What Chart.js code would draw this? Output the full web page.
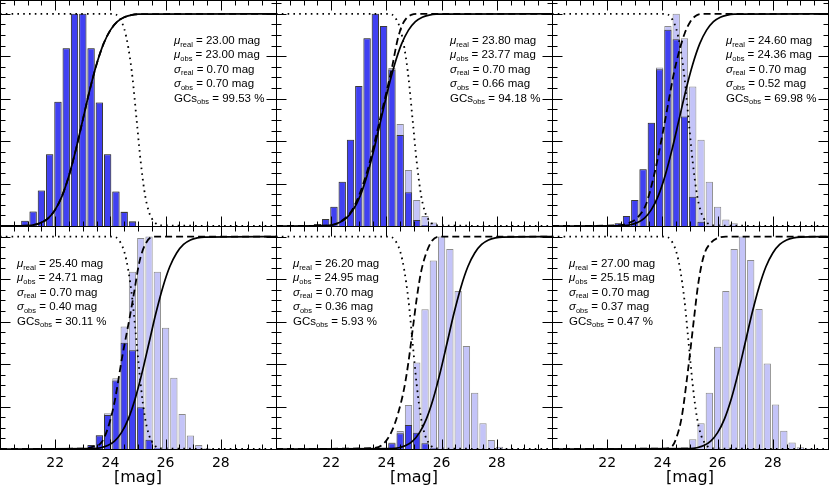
<!DOCTYPE html>
<html><head><meta charset="utf-8">
<script src="https://cdn.jsdelivr.net/npm/chart.js@4.4.1/dist/chart.umd.min.js"></script>
<style>
html,body{margin:0;padding:0;background:#fff;width:830px;height:500px;overflow:hidden;position:relative;}
canvas{position:absolute;}
</style></head><body>
<script>
// ---------- tick labels / axis ----------
const xTickLabels = ['22', '24', '26', '28'];
const xTitle = '[mag]';

// ---------- annotation values ----------
const muReal  = ['23.00', '23.80', '24.60', '25.40', '26.20', '27.00'];
const muObs   = ['23.00', '23.77', '24.36', '24.71', '24.95', '25.15'];
const sigReal = ['0.70', '0.70', '0.70', '0.70', '0.70', '0.70'];
const sigObs  = ['0.70', '0.66', '0.52', '0.40', '0.36', '0.37'];
const gcsObs  = ['99.53', '94.18', '69.98', '30.11', '5.93', '0.47'];

// ---------- histograms (bin centres, real = light, observed = dark) ----------
const bins1 = [20.6, 20.9, 21.2, 21.5, 21.8, 22.1, 22.4, 22.7, 23.0, 23.3, 23.6, 23.9, 24.2, 24.5, 24.8];
const real1 = [0.005, 0.025, 0.068, 0.167, 0.338, 0.585, 0.838, 1.0, 1.0, 0.838, 0.582, 0.338, 0.162, 0.068, 0.024];
const obs1  = [0.005, 0.025, 0.068, 0.167, 0.338, 0.585, 0.838, 1.0, 1.0, 0.838, 0.582, 0.338, 0.162, 0.066, 0.02];

const bins2 = [21.5, 21.8, 22.1, 22.4, 22.7, 23.0, 23.3, 23.6, 23.9, 24.2, 24.5, 24.8, 25.1, 25.4, 25.7];
const real2 = [0.01, 0.033, 0.091, 0.209, 0.406, 0.66, 0.885, 1.0, 0.943, 0.745, 0.481, 0.264, 0.123, 0.047, 0.017];
const obs2  = [0.01, 0.033, 0.091, 0.209, 0.406, 0.66, 0.885, 1.0, 0.943, 0.737, 0.429, 0.159, 0.028, 0.005, 0];

const bins3 = [22.4, 22.7, 23.0, 23.3, 23.6, 23.9, 24.2, 24.5, 24.8, 25.1, 25.4, 25.7, 26.0, 26.3, 26.6];
const real3 = [0.013, 0.047, 0.123, 0.267, 0.487, 0.747, 0.943, 1.0, 0.885, 0.657, 0.406, 0.209, 0.091, 0.031, 0.013];
const obs3  = [0.013, 0.047, 0.123, 0.267, 0.487, 0.739, 0.925, 0.88, 0.516, 0.138, 0.02, 0, 0, 0, 0];

const bins4 = [23.0, 23.3, 23.6, 23.9, 24.2, 24.5, 24.8, 25.1, 25.4, 25.7, 26.0, 26.3, 26.6, 26.9, 27.2, 27.5];
const real4 = [0.003, 0.019, 0.066, 0.168, 0.333, 0.577, 0.835, 0.993, 1.0, 0.835, 0.571, 0.336, 0.165, 0.063, 0.019, 0.003];
const obs4  = [0.003, 0.019, 0.064, 0.16, 0.322, 0.5, 0.465, 0.197, 0.043, 0.004, 0, 0, 0, 0, 0, 0];

const bins5 = [23.9, 24.2, 24.5, 24.8, 25.1, 25.4, 25.7, 26.0, 26.3, 26.6, 26.9, 27.2, 27.5, 27.8, 28.1, 28.4];
const real5 = [0.003, 0.031, 0.085, 0.207, 0.407, 0.658, 0.887, 1.0, 0.942, 0.744, 0.485, 0.265, 0.121, 0.042, 0.011, 0.002];
const obs5  = [0.003, 0.027, 0.074, 0.113, 0.077, 0.027, 0.003, 0, 0, 0, 0, 0, 0, 0, 0, 0];

const bins6 = [24.8, 25.1, 25.4, 25.7, 26.0, 26.3, 26.6, 26.9, 27.2, 27.5, 27.8, 28.1, 28.4, 28.7, 29.0, 29.3];
const real6 = [0.008, 0.046, 0.121, 0.265, 0.482, 0.744, 0.942, 1.0, 0.89, 0.659, 0.403, 0.21, 0.086, 0.031, 0.008, 0.002];
const obs6  = [0.006, 0.004, 0, 0, 0, 0, 0, 0, 0, 0, 0, 0, 0, 0, 0, 0];

// ---------- solid curves (real cumulative) ----------
const solidY  = [0, 0.002, 0.006, 0.016, 0.037, 0.077, 0.142, 0.238, 0.361, 0.5, 0.64, 0.762, 0.858, 0.923, 0.963, 0.984, 0.994, 0.998, 1];
const solidX1 = [20, 21, 21.25, 21.5, 21.75, 22, 22.25, 22.5, 22.75, 23, 23.25, 23.5, 23.75, 24, 24.25, 24.5, 24.75, 25, 30];
const solidX2 = [20, 21.8, 22.05, 22.3, 22.55, 22.8, 23.05, 23.3, 23.55, 23.8, 24.05, 24.3, 24.55, 24.8, 25.05, 25.3, 25.55, 25.8, 30];
const solidX3 = [20, 22.6, 22.85, 23.1, 23.35, 23.6, 23.85, 24.1, 24.35, 24.6, 24.85, 25.1, 25.35, 25.6, 25.85, 26.1, 26.35, 26.6, 30];
const solidX4 = [20, 23.4, 23.65, 23.9, 24.15, 24.4, 24.65, 24.9, 25.15, 25.4, 25.65, 25.9, 26.15, 26.4, 26.65, 26.9, 27.15, 27.4, 30];
const solidX5 = [20, 24.2, 24.45, 24.7, 24.95, 25.2, 25.45, 25.7, 25.95, 26.2, 26.45, 26.7, 26.95, 27.2, 27.45, 27.7, 27.95, 28.2, 30];
const solidX6 = [20, 25.0, 25.25, 25.5, 25.75, 26.0, 26.25, 26.5, 26.75, 27.0, 27.25, 27.5, 27.75, 28.0, 28.25, 28.5, 28.75, 29.0, 30];

// ---------- dashed curves (observed cumulative) ----------
const dashX1 = [20, 21, 21.25, 21.5, 21.75, 22, 22.25, 22.5, 22.75, 23, 23.25, 23.5, 23.75, 24, 24.25, 24.5, 24.75, 25, 30];
const dashY1 = [0, 0.002, 0.006, 0.016, 0.037, 0.077, 0.142, 0.238, 0.361, 0.5, 0.64, 0.762, 0.858, 0.923, 0.963, 0.984, 0.994, 0.998, 1];
const dashX2 = [20, 21.8, 22.3, 22.8, 23.3, 23.6, 23.8, 24.0, 24.2, 24.4, 24.55, 24.7, 24.9, 25.2, 30];
const dashY2 = [0, 0.002, 0.018, 0.085, 0.255, 0.41, 0.52, 0.63, 0.745, 0.875, 0.94, 0.975, 0.995, 1, 1];
const dashX3 = [20, 22.4, 22.8, 23.1, 23.4, 23.7, 24.0, 24.2, 24.4, 24.6, 24.8, 25.0, 25.2, 25.45, 30];
const dashY3 = [0, 0.003, 0.015, 0.04, 0.1, 0.24, 0.43, 0.57, 0.71, 0.82, 0.905, 0.96, 0.99, 1, 1];
const dashX4 = [20, 23.0, 23.35, 23.7, 24.1, 24.45, 24.7, 24.85, 25.05, 25.25, 25.55, 30];
const dashY4 = [0, 0.002, 0.01, 0.035, 0.19, 0.45, 0.62, 0.73, 0.88, 0.96, 1, 1];
const dashX5 = [20, 23.5, 23.9, 24.2, 24.45, 24.65, 24.8, 24.95, 25.1, 25.25, 25.45, 25.65, 25.9, 30];
const dashY5 = [0, 0.004, 0.025, 0.085, 0.18, 0.29, 0.41, 0.56, 0.71, 0.83, 0.925, 0.98, 1, 1];
const dashX6 = [20, 24.1, 24.35, 24.5, 24.7, 24.85, 25.0, 25.15, 25.3, 25.5, 25.75, 26.0, 26.3, 30];
const dashY6 = [0, 0.002, 0.012, 0.05, 0.15, 0.29, 0.45, 0.62, 0.78, 0.91, 0.97, 0.993, 1, 1];

// ---------- dotted curve (completeness) ----------
const compX = [20, 24.1, 24.3, 24.5, 24.65, 24.8, 24.95, 25.1, 25.25, 25.4, 25.6, 25.8, 30];
const compY = [1, 1, 0.985, 0.93, 0.84, 0.7, 0.5, 0.3, 0.15, 0.065, 0.018, 0.003, 0];

// ---------- assembly ----------
const panels = [
  {bins: bins1, real: real1, obs: obs1, sx: solidX1, dx: dashX1, dy: dashY1},
  {bins: bins2, real: real2, obs: obs2, sx: solidX2, dx: dashX2, dy: dashY2},
  {bins: bins3, real: real3, obs: obs3, sx: solidX3, dx: dashX3, dy: dashY3},
  {bins: bins4, real: real4, obs: obs4, sx: solidX4, dx: dashX4, dy: dashY4},
  {bins: bins5, real: real5, obs: obs5, sx: solidX5, dx: dashX5, dy: dashY5},
  {bins: bins6, real: real6, obs: obs6, sx: solidX6, dx: dashX6, dy: dashY6}
];

const COL_W = 276;
const DARK = '#4040f2', DARK_EDGE = '#3a3a3a';
const LIGHT = '#c4c4f8', LIGHT_EDGE = '#8a8a8a';
const TXT_FONT = '"Liberation Sans", Arial, sans-serif';

function pts(xs, ys) { return xs.map((x, i) => ({x: x, y: ys[i]})); }
function barPts(xs, ys) { return xs.map((x, i) => ({x: x, y: ys[i] > 0 ? ys[i] : null})); }
function isMult(v, s) { const r = v / s; return Math.abs(r - Math.round(r)) < 1e-6; }

const decor = {
  id: 'decor',
  afterDatasetsDraw(chart, args, o) {
    const {ctx, chartArea: a, scales} = chart;
    const xs = scales.x, ys = scales.y;
    const L = Math.round(a.left) + 0.5, R = Math.round(a.right) + 0.5;
    const T = Math.round(a.top) + 0.5, B = Math.round(a.bottom) + 0.5;
    ctx.save();
    ctx.strokeStyle = '#000';
    ctx.lineWidth = 1;
    ctx.setLineDash([]);
    ctx.beginPath();
    for (let k = 0; ; k++) {
      const v = 20 + k * 0.5;
      if (v > 30 + 1e-9) break;
      const len = isMult(v, 2) ? 10 : 5;
      const px = Math.round(xs.getPixelForValue(v)) + 0.5;
      ctx.moveTo(px, B); ctx.lineTo(px, B - len);
      ctx.moveTo(px, T); ctx.lineTo(px, T + len);
    }
    for (let k = 0; ; k++) {
      const v = k * 0.05;
      if (v > ys.max + 1e-9) break;
      const len = isMult(v, 0.2) ? 10 : 5;
      const py = Math.round(ys.getPixelForValue(v)) + 0.5;
      ctx.moveTo(L, py); ctx.lineTo(L + len, py);
      ctx.moveTo(R, py); ctx.lineTo(R - len, py);
    }
    ctx.stroke();
    ctx.strokeRect(L, T, R - L, B - T);

    // annotation text
    const i = o.idx;
    const lines = [
      ['\u03bc', true, 'real', ' = ' + muReal[i] + ' mag'],
      ['\u03bc', true, 'obs', ' = ' + muObs[i] + ' mag'],
      ['\u03c3', true, 'real', ' = ' + sigReal[i] + ' mag'],
      ['\u03c3', true, 'obs', ' = ' + sigObs[i] + ' mag'],
      ['GCs', false, 'obs', ' = ' + gcsObs[i] + ' %']
    ];
    const x0 = a.left + (o.row === 0 ? 174 : 17);
    const y0 = a.top + (o.row === 0 ? 44 : 41);
    const lh = 14.45;
    ctx.fillStyle = '#000';
    ctx.textBaseline = 'alphabetic';
    ctx.textAlign = 'left';
    lines.forEach((ln, j) => {
      let x = x0;
      const y = y0 + j * lh;
      ctx.font = (ln[1] ? 'italic ' : '') + '11.5px ' + TXT_FONT;
      ctx.fillText(ln[0], x, y); x += ctx.measureText(ln[0]).width;
      ctx.font = '7.5px ' + TXT_FONT;
      ctx.fillText(ln[2], x, y + 2.5); x += ctx.measureText(ln[2]).width;
      ctx.font = '11.5px ' + TXT_FONT;
      ctx.fillText(ln[3], x, y);
    });
    ctx.restore();
  }
};

panels.forEach((p, i) => {
  const row = Math.floor(i / 3), col = i % 3;
  const cv = document.createElement('canvas');
  const W = 278;
  const H = row === 0 ? 228 : 261;
  cv.width = W; cv.height = H;
  cv.style.width = W + 'px'; cv.style.height = H + 'px';
  cv.style.left = (col * COL_W - 1) + 'px';
  cv.style.top = (row === 0 ? -1 : 225) + 'px';
  document.body.appendChild(cv);

  const yMax = row === 0 ? 1.065 : 1.05;
  new Chart(cv, {
    type: 'bar',
    data: {
      datasets: [
        {type: 'line', data: pts(compX, compY), borderColor: '#000', borderWidth: 1.8, borderDash: [1.6, 4.2],
         borderCapStyle: 'butt', pointRadius: 0, cubicInterpolationMode: 'monotone', fill: false, order: 0},
        {type: 'line', data: pts(p.dx, p.dy), borderColor: '#000', borderWidth: 1.8, borderDash: [7, 4],
         pointRadius: 0, cubicInterpolationMode: 'monotone', fill: false, order: 1},
        {type: 'line', data: pts(p.sx, solidY), borderColor: '#000', borderWidth: 1.7,
         pointRadius: 0, cubicInterpolationMode: 'monotone', fill: false, order: 2},
        {type: 'bar', data: barPts(p.bins, p.obs), backgroundColor: DARK, borderColor: DARK_EDGE, borderWidth: 1,
         grouped: false, barPercentage: 0.88, categoryPercentage: 1, order: 3},
        {type: 'bar', data: barPts(p.bins, p.real), backgroundColor: LIGHT, borderColor: LIGHT_EDGE, borderWidth: 1,
         grouped: false, barPercentage: 0.88, categoryPercentage: 1, order: 4}
      ]
    },
    options: {
      responsive: false,
      maintainAspectRatio: false,
      animation: false,
      devicePixelRatio: 1,
      layout: {padding: {left: 1, right: 1, top: 1, bottom: row === 0 ? 1 : 0}},
      plugins: {legend: {display: false}, tooltip: {enabled: false}, decor: {idx: i, row: row}},
      scales: {
        x: {
          type: 'linear', min: 20, max: 30, offset: false,
          display: row === 1,
          grid: {display: true, drawOnChartArea: false, drawTicks: true, tickLength: 7,
                 tickColor: 'rgba(0,0,0,0)', offset: false},
          border: {display: false},
          ticks: {stepSize: 0.5, autoSkip: false, maxRotation: 0, minRotation: 0, padding: 0,
                  color: '#000', font: {family: '"DejaVu Sans"', size: 14, lineHeight: 1},
                  callback: (v) => xTickLabels.includes(String(v)) ? String(v) : ''},
          title: {display: true, text: xTitle, color: '#000', padding: 0,
                  font: {family: '"DejaVu Sans"', size: 16, lineHeight: 1}}
        },
        y: {
          type: 'linear', min: 0, max: yMax, display: false,
          ticks: {stepSize: 0.05, includeBounds: false}
        }
      }
    },
    plugins: [decor]
  });
});
</script>
</body></html>
